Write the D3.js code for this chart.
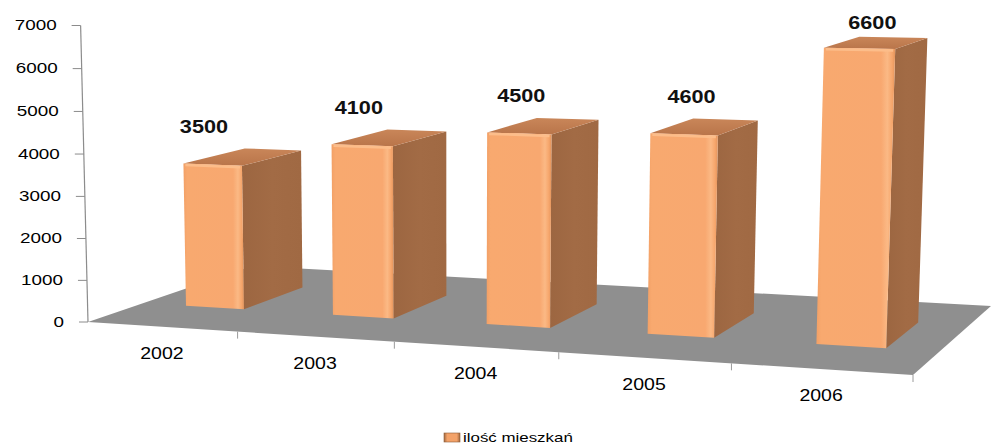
<!DOCTYPE html>
<html>
<head>
<meta charset="utf-8">
<script src="https://cdn.jsdelivr.net/npm/d3@7"></script>
<style>
  body { margin: 0; background: #fff; }
  svg { display: block; }
  text { font-family: "Liberation Sans", Arial, sans-serif; }
</style>
</head>
<body>
<svg id="chart" width="991" height="444"></svg>
<script>
// ---- data ----
const years = ["2002", "2003", "2004", "2005", "2006"];
const values = [3500, 4100, 4500, 4600, 6600];
const yTicks = [0, 1000, 2000, 3000, 4000, 5000, 6000, 7000];
const seriesName = "ilość mieszkań";

// ---- layout ----
const W = 991, H = 444;
// floor corners on screen: front-left, front-right, back-right, back-left
const floorQuad = [[88, 322], [913, 375], [991, 306], [252, 266]];
const rise = 297;      // screen rise of the full value range at the front-left corner
const lean = -9;       // horizontal drift of verticals over the full range
const persp = -0.02;   // vertical perspective term
const depth = [0.31, 0.69]; // bar extent along the floor depth (0 = front, 1 = back)

// projective map of the unit square onto the floor quad
function homography(q) {
  const [x0, y0] = q[0], [x1, y1] = q[1], [x2, y2] = q[2], [x3, y3] = q[3];
  const dx1 = x1 - x2, dy1 = y1 - y2, dx2 = x3 - x2, dy2 = y3 - y2;
  const sx = x0 - x1 + x2 - x3, sy = y0 - y1 + y2 - y3;
  const den = dx1 * dy2 - dx2 * dy1;
  const g = (sx * dy2 - dx2 * sy) / den;
  const h = (dx1 * sy - sx * dy1) / den;
  return { a: x1 - x0 + g * x1, b: x3 - x0 + h * x3, c: x0,
           d: y1 - y0 + g * y1, e: y3 - y0 + h * y3, f: y0, g, h };
}
const M = homography(floorQuad);
// u: along categories, v: depth, t: height (0..1 of value scale)
function proj(u, v, t) {
  const w = M.g * u + M.h * v + 1 + persp * t;
  return [(M.a * u + M.b * v + M.c + lean * t) / w,
          (M.d * u + M.e * v + M.f - rise * t) / w];
}

const x = d3.scaleBand().domain(years).range([0, 1]).paddingInner(0.6).paddingOuter(0.3);
const y = d3.scaleLinear().domain([0, 7000]).range([0, 1]);
const line = d3.line();
const poly = pts => line(pts) + "Z";

const svg = d3.select("#chart");
svg.append("rect").attr("width", W).attr("height", H).attr("fill", "#fff");

// ---- gradients ----
const defs = svg.append("defs");
function grad(id, stops, vertical) {
  const g = defs.append("linearGradient").attr("id", id)
    .attr("x1", 0).attr("y1", 0).attr("x2", vertical ? 0 : 1).attr("y2", vertical ? 1 : 0);
  stops.forEach(([o, c]) => g.append("stop").attr("offset", o).attr("stop-color", c));
}
grad("front", [[0, "#F2A066"], [0.06, "#F8A96F"], [0.82, "#F8A870"], [0.9, "#FBB985"], [0.96, "#F6A66C"], [1, "#E2935B"]]);
grad("side", [[0, "#9C6641"], [0.5, "#A26B45"], [1, "#A06943"]]);
grad("top", [[0, "#C98659"], [1, "#B9754A"]], true);
grad("legendMark", [[0, "#A0683F"], [0.2, "#F3A269"], [0.8, "#F3A269"], [1, "#A0683F"]]);

// ---- floor ----
svg.append("path")
  .attr("d", poly([proj(0, 0, 0), proj(1, 0, 0), proj(1, 1, 0), proj(0, 1, 0)]))
  .attr("fill", "#8F8F8F");

// category divider ticks on the front edge
const dividers = d3.range(1, years.length + 1).map(i => i / years.length);
svg.append("g").selectAll("line").data(dividers).join("line")
  .attr("x1", u => proj(u, 0, 0)[0]).attr("y1", u => proj(u, 0, 0)[1])
  .attr("x2", u => proj(u, 0, 0)[0]).attr("y2", u => proj(u, 0, 0)[1] + 7)
  .attr("stroke", "#9A9A9A").attr("stroke-width", 1);

// ---- value axis ----
const axis = svg.append("g");
axis.append("path")
  .attr("d", line([proj(0, 0, 0), proj(0, 0, 1)]))
  .attr("stroke", "#8C8C8C").attr("stroke-width", 1.2).attr("fill", "none");
const tk = axis.selectAll("g.tick").data(yTicks).join("g").attr("class", "tick");
tk.append("line")
  .attr("x1", d => proj(0, 0, y(d))[0] - 9).attr("x2", d => proj(0, 0, y(d))[0])
  .attr("y1", d => proj(0, 0, y(d))[1]).attr("y2", d => proj(0, 0, y(d))[1])
  .attr("stroke", "#8C8C8C").attr("stroke-width", 1);
tk.append("text")
  .attr("transform", d => { const p = proj(0, 0, y(d)); return `translate(${p[0] - 24},${p[1]}) scale(1.3,1)`; })
  .attr("text-anchor", "end").attr("dominant-baseline", "central")
  .attr("font-size", 14.5).attr("fill", "#000")
  .text(d => d);

// ---- category labels ----
svg.append("g").selectAll("text").data(years).join("text")
  .attr("transform", d => { const p = proj(x(d) + x.bandwidth() / 2, 0, 0); return `translate(${p[0]},${p[1] + 27}) scale(1.22,1)`; })
  .attr("text-anchor", "middle").attr("dominant-baseline", "central")
  .attr("font-size", 16).attr("fill", "#000")
  .text(d => d);

// ---- bars (left to right, nearer bars drawn later) ----
const rows = years.map((yr, i) => ({ year: yr, value: values[i] }));
const bar = svg.append("g").selectAll("g.bar").data(rows).join("g").attr("class", "bar");
const [v0, v1] = depth;
bar.append("path").attr("fill", "url(#side)")
  .attr("d", d => { const u = x(d.year) + x.bandwidth(), t = y(d.value);
    return poly([proj(u, v0, 0), proj(u, v1, 0), proj(u, v1, t), proj(u, v0, t)]); });
bar.append("path").attr("fill", "url(#top)")
  .attr("d", d => { const u0 = x(d.year), u1 = u0 + x.bandwidth(), t = y(d.value);
    return poly([proj(u0, v0, t), proj(u1, v0, t), proj(u1, v1, t), proj(u0, v1, t)]); });
bar.append("path").attr("fill", "url(#front)")
  .attr("d", d => { const u0 = x(d.year), u1 = u0 + x.bandwidth(), t = y(d.value);
    return poly([proj(u0, v0, 0), proj(u1, v0, 0), proj(u1, v0, t), proj(u0, v0, t)]); });
// light rim along the top front edge
bar.append("path").attr("fill", "none").attr("stroke", "#FCBD8A").attr("stroke-width", 2.5)
  .attr("d", d => { const u0 = x(d.year), u1 = u0 + x.bandwidth(), t = y(d.value);
    const a = proj(u0, v0, t), b = proj(u1, v0, t);
    return line([[a[0] + 2, a[1] + 1.5], [b[0] - 2, b[1] + 1.5]]); });

// value labels
bar.append("text")
  .attr("transform", d => {
    const u0 = x(d.year), u1 = u0 + x.bandwidth(), uc = (u0 + u1) / 2, t = y(d.value);
    const fc = proj(uc, v0, t);
    const backTop = Math.min(proj(u0, v1, t)[1], proj(u1, v1, t)[1]);
    return `translate(${fc[0] + 27 * (uc - 0.42)},${Math.max(backTop - 22, 22)}) scale(1.14,1)`;
  })
  .attr("text-anchor", "middle").attr("dominant-baseline", "central")
  .attr("font-size", 19).attr("font-weight", "bold").attr("fill", "#111")
  .text(d => d.value);

// ---- legend ----
const legend = svg.append("g").attr("transform", "translate(444,433)");
legend.append("rect").attr("width", 16).attr("height", 9)
  .attr("fill", "url(#legendMark)").attr("stroke", "#8E5C38").attr("stroke-width", 0.6);
legend.append("text")
  .attr("transform", "translate(19,9.3) scale(1.3,1)")
  .attr("font-size", 13).attr("fill", "#000")
  .text(seriesName);
</script>
</body>
</html>
